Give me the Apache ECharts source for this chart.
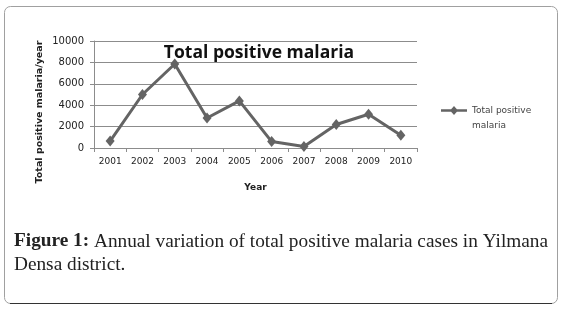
<!DOCTYPE html>
<html>
<head>
<meta charset="utf-8">
<script src="https://cdn.jsdelivr.net/npm/echarts@6/dist/echarts.min.js"></script>
<style>
  html, body { margin: 0; padding: 0; background: #fff; }
  #chart { width: 564px; height: 309px; }
</style>
</head>
<body>
<div id="chart"></div>
<script>
// data
var years = ['2001', '2002', '2003', '2004', '2005', '2006', '2007', '2008', '2009', '2010'];
var positives = [650, 5000, 7850, 2800, 4400, 600, 150, 2200, 3150, 1200];
var yTicks = [0, 2000, 4000, 6000, 8000, 10000];

var lineColor = '#646464';
var myChart = echarts.init(document.getElementById('chart'));
myChart.setOption({
    animation: false,
    title: {
        text: 'Total positive malaria',
        left: 259,
        textAlign: 'center',
        top: 44,
        padding: 0,
        textStyle: {
            fontFamily: 'Open Sans',
            fontWeight: 'bold',
            fontSize: 17.5,
            color: '#111'
        }
    },
    legend: {
        left: 441,
        top: 88,
        padding: 0,
        itemWidth: 26,
        itemHeight: 9,
        itemGap: 0,
        // blank first line keeps the marker level with "Total positive"
        formatter: function () { return ' \nTotal positive\nmalaria'; },
        textStyle: {
            fontFamily: 'DejaVu Sans',
            fontSize: 9,
            color: '#444',
            lineHeight: 15
        },
        data: [{
            name: 'Total positive malaria',
            icon: 'path://M0,3.2 L26,3.2 L26,5.8 L0,5.8 Z M13,0 L17,4.5 L13,9 L9,4.5 Z'
        }]
    },
    grid: {
        left: 94,
        right: 147,
        top: 41,
        bottom: 161
    },
    xAxis: {
        type: 'category',
        data: years,
        boundaryGap: true,
        name: 'Year',
        nameLocation: 'middle',
        nameGap: 35,
        nameTextStyle: {
            fontFamily: 'DejaVu Sans',
            fontWeight: 'bold',
            fontSize: 9,
            color: '#222'
        },
        axisLine: {lineStyle: {color: '#8c8c8c'}},
        axisTick: {show: true, length: 4, lineStyle: {color: '#8c8c8c'}},
        axisLabel: {
            margin: 9,
            fontFamily: 'DejaVu Sans',
            fontSize: 9,
            color: '#222'
        }
    },
    yAxis: {
        type: 'value',
        min: yTicks[0],
        max: yTicks[yTicks.length - 1],
        interval: yTicks[1] - yTicks[0],
        axisLine: {show: true, lineStyle: {color: '#8c8c8c'}},
        axisTick: {show: true, length: 4, lineStyle: {color: '#8c8c8c'}},
        splitLine: {lineStyle: {color: '#8c8c8c'}},
        axisLabel: {
            margin: 10,
            fontFamily: 'DejaVu Sans',
            fontSize: 10,
            color: '#222',
            formatter: function (v) { return String(v); }
        }
    },
    series: [{
        name: 'Total positive malaria',
        type: 'line',
        data: positives,
        symbol: 'diamond',
        symbolSize: [9, 11],
        itemStyle: {color: lineColor},
        lineStyle: {color: lineColor, width: 3}
    }],
    graphic: [
        {
            type: 'rect',
            shape: {x: 4.5, y: 6.5, width: 553, height: 297, r: 6},
            style: {fill: 'none', stroke: '#a0a0a0', lineWidth: 1},
            z: -1
        },
        {
            type: 'line',
            shape: {x1: 10, y1: 303.5, x2: 552, y2: 303.5},
            style: {stroke: '#333', lineWidth: 1},
            z: -1
        },
        {
            type: 'text',
            x: 40,
            y: 112,
            rotation: Math.PI / 2,
            style: {
                text: 'Total positive malaria/year',
                fontFamily: 'DejaVu Sans',
                fontWeight: 'bold',
                fontSize: 9.5,
                fill: '#222',
                align: 'center',
                verticalAlign: 'middle'
            }
        },
        {
            type: 'text',
            x: 14,
            y: 230,
            style: {
                text: '{b|Figure 1:} Annual variation of total positive malaria cases in Yilmana\nDensa district.',
                fontFamily: 'Liberation Serif',
                fontSize: 19.3,
                lineHeight: 23,
                fill: '#222',
                rich: {
                    b: {fontWeight: 'bold', fontFamily: 'Liberation Serif', fontSize: 19.3, lineHeight: 23}
                }
            }
        }
    ]
});
</script>
</body>
</html>
